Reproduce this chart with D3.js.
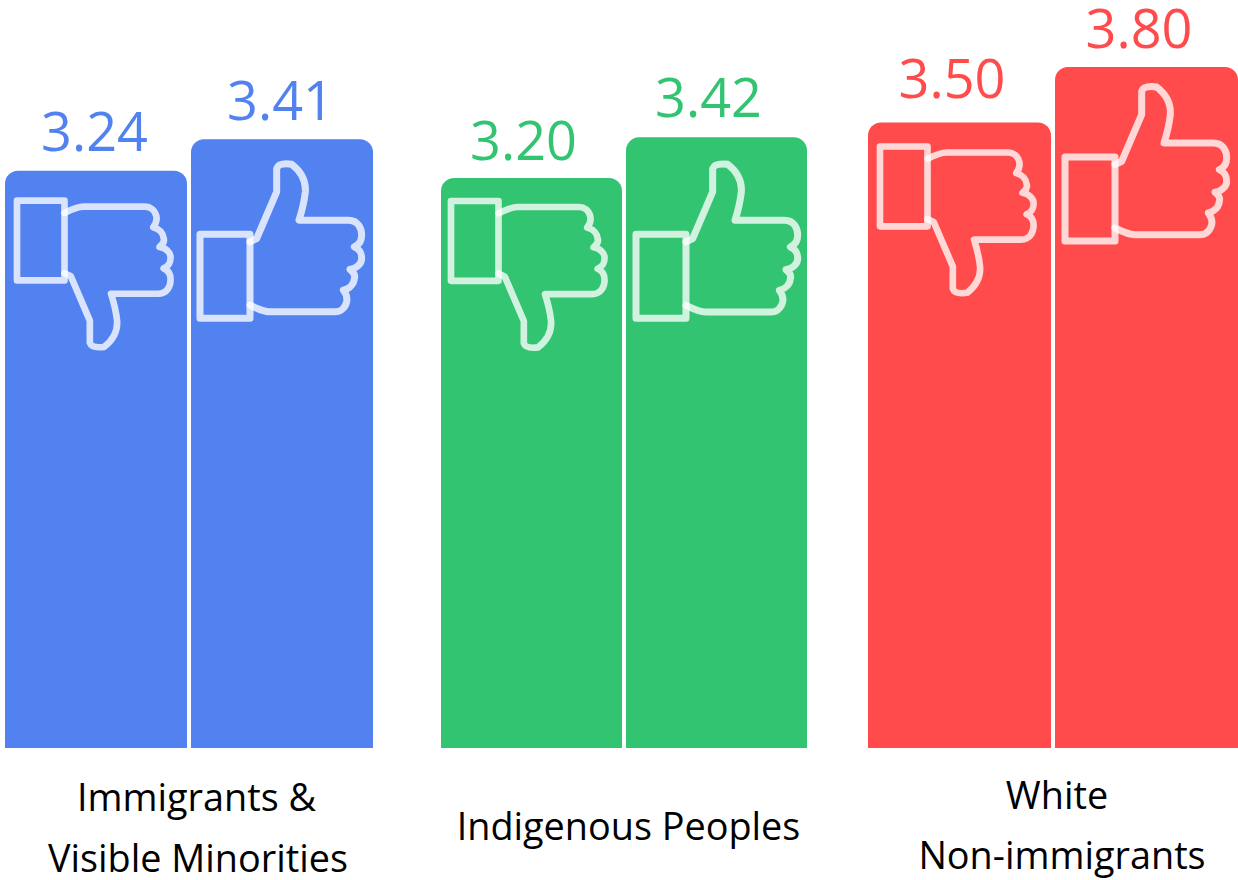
<!DOCTYPE html>
<html><head><meta charset="utf-8">
<script src="https://cdn.jsdelivr.net/npm/d3@7"></script>
<style>html,body{margin:0;padding:0;background:#fff;overflow:hidden}svg{display:block}text{font-family:"Open Sans",sans-serif}</style>
</head><body><svg id="c" width="1238" height="880"></svg>
<script>
const categories=["Immigrants & Visible Minorities","Indigenous Peoples","White Non-immigrants"];
const series=["down","up"];
const downValues=[3.24,3.20,3.50];
const upValues=[3.41,3.42,3.80];
const labelLines=[["Immigrants &","Visible Minorities"],["Indigenous Peoples"],["White","Non-immigrants"]];
const colors=["#5282f0","#33c472","#ff4b4b"];
// layout only
const groupLeft=[5,441,868], barWidth=[182,181,183], barGap=4;
const labelX=[[196.5,198],[628.5],[1057,1062]], labelY=[[811,872],[840],[809,869]];
const iconDx={down:[12,10,12],up:[9,10,10]};
const iconDy={down:[30,23,24],up:[95,97,90]};
const valueDx=[-1.5,-8,-7.5];
const valueDy={down:[20,18,25],up:[19,20,19]};
const svg=d3.select("#c");
const y=d3.scaleLinear().domain([0.12,3.8]).range([748,67]);
const gx=d3.scaleOrdinal().domain(categories).range(groupLeft);
const gw=d3.scaleOrdinal().domain(categories).range(barWidth);
const gc=d3.scaleOrdinal().domain(categories).range(colors);
const hand="M150,23 L170,13 L230,-127 L230,-197 C235,-212 260,-212 275,-210 C305,-187 318,-157 316,-127 C312,-92 305,-67 297,-42 L445,-42 C475,-42 485,-17 485,3 C485,23 475,33 463,38 C485,48 485,63 485,73 C485,88 470,103 450,106 C465,118 465,128 463,133 C462,148 450,163 430,168 C442,183 442,193 440,203 C435,223 420,233 405,233 L210,233 C190,233 170,223 150,213";
const cuff="M0,0 H150 V252 H0 Z";
const rows=[];
categories.forEach((c,i)=>{
  rows.push({c,i,s:"down",v:downValues[i]});
  rows.push({c,i,s:"up",v:upValues[i]});
});
const barLeft=d=>gx(d.c)+(d.s==="up"?gw(d.c)+barGap:0);
const barPath=d=>{
  const x0=barLeft(d), x1=x0+gw(d.c), t=y(d.v), b=y.range()[0], r=13;
  const p=d3.path();
  p.moveTo(x0,b);p.lineTo(x0,t+r);p.arcTo(x0,t,x0+r,t,r);p.lineTo(x1-r,t);p.arcTo(x1,t,x1,t+r,r);p.lineTo(x1,b);p.closePath();
  return p.toString();
};
svg.selectAll("path.bar").data(rows).join("path").attr("class","bar").attr("d",barPath).attr("fill",d=>gc(d.c));
const icons=svg.selectAll("g.icon").data(rows).join("g").attr("class","icon")
 .attr("transform",d=>{
   const tx=barLeft(d)+iconDx[d.s][d.i], ty=y(d.v)+iconDy[d.s][d.i];
   return d.s==="up"?`translate(${tx},${ty}) scale(${1/3})`:`translate(${tx},${ty}) scale(${0.95/3},${-0.95/3}) translate(0,-252)`;
 });
icons.selectAll("path").data(d=>[cuff,hand]).join("path").attr("d",d=>d)
 .attr("fill","none").attr("stroke","#fff").attr("stroke-opacity",0.78)
 .attr("stroke-width",21).attr("stroke-linejoin","round").attr("stroke-linecap","round");
svg.selectAll("text.val").data(rows).join("text").attr("class","val")
 .attr("x",d=>barLeft(d)+gw(d.c)/2+valueDx[d.i])
 .attr("y",d=>y(d.v)-valueDy[d.s][d.i])
 .attr("text-anchor","middle").attr("font-size",54).attr("fill",d=>gc(d.c))
 .text(d=>d.v.toFixed(2));
categories.forEach((c,i)=>{
  labelLines[i].forEach((t,j)=>{
    svg.append("text").attr("class","cat").attr("x",labelX[i][j]).attr("y",labelY[i][j])
     .attr("text-anchor","middle").attr("font-size",37.8).attr("fill","#000").text(t);
  });
});
</script></body></html>
